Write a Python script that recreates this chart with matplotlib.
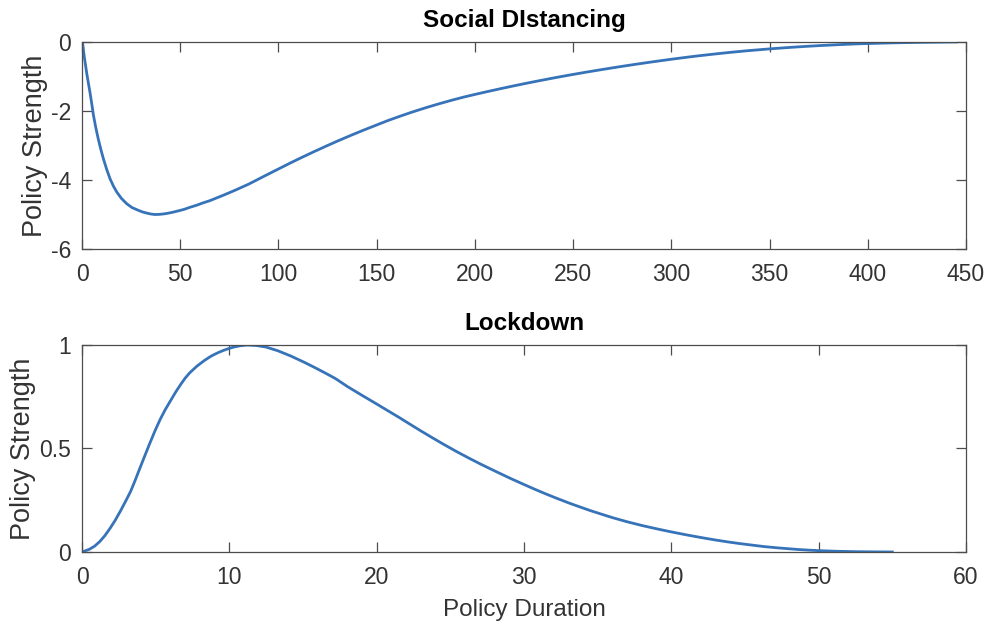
import matplotlib
matplotlib.use("Agg")
import matplotlib.pyplot as plt

# Social distancing curve
sd_days = [0, 0.35, 0.8, 1.2, 1.8, 2.4, 3.2, 4.1, 5.0, 5.8, 7.0, 8.3, 9.6,
           10.9, 12.6, 14.3, 16.0, 17.7, 20.0, 22.8, 25.5, 28.7, 31, 33, 35,
           37, 39.5, 42, 44, 46.5, 49, 52, 55, 58.4, 61.5, 65, 68.5, 72, 78,
           85, 92, 100, 106, 112, 118, 125, 131, 137, 143, 150, 156, 162, 168,
           175, 181, 188, 194, 200, 206, 213, 219, 225, 231, 238, 244, 250,
           257, 264, 270, 275, 282, 288, 294, 300, 306, 312, 318, 325, 331,
           338, 344, 350, 356, 362, 368, 375, 381, 388, 394, 400, 406, 412,
           418, 425, 430, 435, 440, 445]
sd_strength = [0, -0.05, -0.28, -0.45, -0.68, -0.91, -1.18, -1.48, -1.81,
               -2.12, -2.48, -2.82, -3.12, -3.39, -3.70, -3.97, -4.18, -4.35,
               -4.53, -4.69, -4.80, -4.88, -4.93, -4.96, -4.985, -5.0, -4.995,
               -4.98, -4.96, -4.93, -4.895, -4.85, -4.79, -4.73, -4.665, -4.6,
               -4.52, -4.44, -4.295, -4.115, -3.91, -3.68, -3.508, -3.342,
               -3.181, -2.999, -2.848, -2.703, -2.562, -2.405, -2.271, -2.149,
               -2.032, -1.905, -1.803, -1.691, -1.601, -1.52, -1.442, -1.354,
               -1.281, -1.21, -1.142, -1.065, -1.001, -0.94, -0.871, -0.805,
               -0.75, -0.705, -0.645, -0.595, -0.547, -0.50, -0.456, -0.413,
               -0.374, -0.33, -0.295, -0.257, -0.228, -0.20, -0.175, -0.151,
               -0.129, -0.106, -0.089, -0.07, -0.056, -0.045, -0.035, -0.026,
               -0.019, -0.0125, -0.009, -0.0055, -0.002, 0]

# Lockdown curve
ld_days = [0, 0.5, 0.85, 1.2, 1.55, 1.9, 2.25, 2.6, 2.95, 3.3, 3.6, 3.9, 4.25,
           4.6, 4.95, 5.3, 5.65, 6.0, 6.35, 6.7, 7.0, 7.3, 7.8, 8.3, 8.75,
           9.2, 9.6, 10, 10.35, 10.7, 11.2, 11.8, 12.5, 13.3, 14.2, 15.1,
           15.8, 16.5, 17.2, 18, 19, 20, 20.7, 21.5, 22.2, 23, 23.8, 24.5,
           25.4, 26.3, 27.1, 28, 29, 30, 30.7, 31.5, 32.2, 33, 33.7, 34.5,
           35.2, 36, 37, 38, 39, 40, 41, 42, 42.9, 43.8, 44.6, 45.5, 46.3,
           47.2, 47.9, 48.6, 49.3, 50, 51.2, 52.5, 53.7, 55]
ld_strength = [0, 0.013, 0.028, 0.05, 0.079, 0.114, 0.153, 0.197, 0.244,
               0.293, 0.345, 0.40, 0.463, 0.525, 0.585, 0.64, 0.688, 0.73,
               0.772, 0.81, 0.84, 0.865, 0.898, 0.925, 0.946, 0.962, 0.974,
               0.984, 0.991, 0.996, 1.0, 0.998, 0.99, 0.972, 0.946, 0.916,
               0.891, 0.865, 0.838, 0.80, 0.757, 0.715, 0.685, 0.651, 0.62,
               0.585, 0.551, 0.522, 0.486, 0.452, 0.423, 0.392, 0.358, 0.326,
               0.304, 0.28, 0.26, 0.238, 0.22, 0.2, 0.184, 0.166, 0.146, 0.128,
               0.112, 0.097, 0.083, 0.07, 0.059, 0.049, 0.041, 0.033, 0.026,
               0.02, 0.016, 0.012, 0.009, 0.0065, 0.0035, 0.0015, 0.0005, 0]

plt.rcParams['font.family'] = ['Liberation Sans', 'DejaVu Sans']

line_color = '#3673b8'
axis_color = '#4d4d4d'
text_color = '#333333'

fig = plt.figure(figsize=(9.86, 6.23), dpi=100)
ax1 = fig.add_axes([0.0832, 0.6003, 0.8965, 0.3323])
ax2 = fig.add_axes([0.0832, 0.1140, 0.8965, 0.3322])

panels = [
    (ax1, sd_days, sd_strength, 'Social DIstancing', (0, 450), (-6, 0),
     range(0, 451, 50), [-6, -4, -2, 0]),
    (ax2, ld_days, ld_strength, 'Lockdown', (0, 60), (0, 1),
     range(0, 61, 10), [0, 0.5, 1]),
]

for ax, x, y, title, xlim, ylim, xt, yt in panels:
    ax.plot(x, y, color=line_color, linewidth=2.0)
    ax.set_xlim(*xlim)
    ax.set_ylim(*ylim)
    ax.set_xticks(list(xt))
    ax.set_yticks(yt)
    ax.set_yticklabels([f'{v:g}' for v in yt])
    ax.set_title(title, fontsize=17.5, fontweight='bold', color='black',
                 pad=11)
    ax.set_ylabel('Policy Strength', fontsize=19.5, color=text_color,
                  labelpad=2)
    ax.tick_params(direction='in', length=7, width=0.9, top=True, right=True,
                   colors=axis_color, labelcolor=text_color, labelsize=16.5)
    ax.tick_params(axis='x', pad=10)
    ax.tick_params(axis='y', pad=8)
    for s in ax.spines.values():
        s.set_color(axis_color)
        s.set_linewidth(0.9)

ax2.set_xlabel('Policy Duration', fontsize=17.5, color=text_color, labelpad=7)

fig.savefig('out.png', dpi=100)
